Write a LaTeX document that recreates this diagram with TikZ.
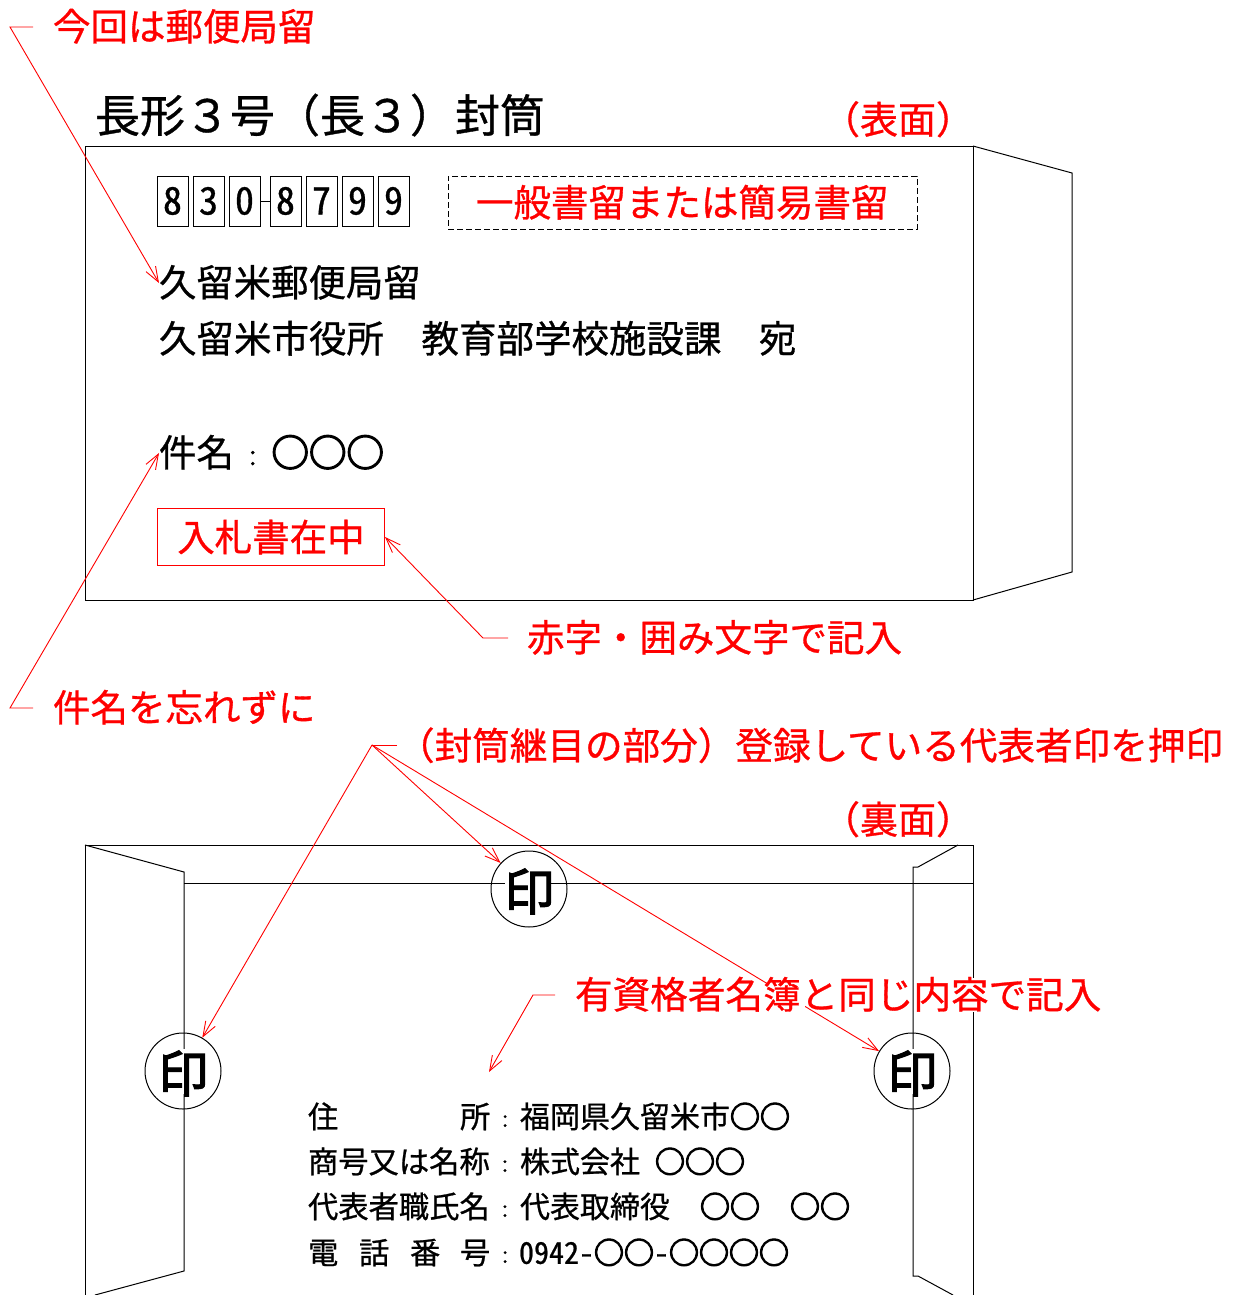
\documentclass[tikz,border=0pt]{standalone}
\usepackage{fontspec}
\usetikzlibrary{arrows.meta}
\setmainfont[RawFeature={embolden=0.8}]{Noto Sans CJK JP}
\newfontfamily\jphw[RawFeature={+hwid;embolden=0.8}]{Noto Sans CJK JP}
\newfontfamily\jpheavy[RawFeature={embolden=2.2}]{Noto Sans CJK JP}
\newfontfamily\jpring[RawFeature={embolden=4}]{Noto Sans CJK JP}
\newcommand{\fwL}{\char"FF08\relax}
\newcommand{\fwR}{\char"FF09\relax}
\newcommand{\fwC}{\makebox[1em]{\scalebox{.6}{\char"FF1A\relax}}}
\newcommand{\fwT}{\char"FF13\relax}
\newcommand{\fwS}{\char"3000\relax}
\newcommand{\rng}[1]{{\jpring #1}}
\tikzset{
  x=1pt,y=-1pt,
  txt/.style={anchor=west,inner sep=0pt,outer sep=0pt,font=\fontsize{#1}{#1}\selectfont,
    text height={0.86*#1 pt},text depth={0.14*#1 pt}},
  redtxt/.style={txt=#1,text=red},
  env/.style={draw=black,line width=1pt},
  lead/.style={draw=red,line width=0.9pt,line join=miter},
  arr/.style={lead,-{Straight Barb[length=15pt,width=11pt,line width=0.9pt]}},
  digitbox/.style={draw=black,line width=1pt,minimum width=31pt,minimum height=50pt,inner sep=0pt,
    font=\fontsize{38}{38}\selectfont\jphw},
  stamp/.style={draw=black,line width=1pt,circle,minimum size=76pt,inner sep=0pt},
  stampglyph/.style={fill=white,inner sep=0pt,minimum size=45pt,text width=45pt,align=center,
    font=\fontsize{50}{50}\selectfont\jpheavy,text height=44pt,text depth=1pt},
}
\begin{document}
\begin{tikzpicture}
\useasboundingbox (0,0) rectangle (1241,1295);
% front envelope
\draw[env] (85,146) rectangle (973,600);
\draw[env] (973,146) -- (1072,173) -- (1072,572) -- (973,600);
% back envelope
\draw[env] (85,1295) -- (85,845) -- (973,845) -- (973,1295);
\draw[env] (85,845) -- (184,872) -- (184,1271) -- (95,1295);
\draw[env] (184,883) -- (973,883);
\draw[env] (958,845) -- (918,867) -- (913,867) -- (913,1276) -- (918,1276) -- (953,1295);

% stamps
\node[stamp] (stA) at (529,889) {};
\node[stamp] (stB) at (183,1071) {};
\node[stamp] (stC) at (912,1071) {};
\node[stampglyph] (gA) at (527,889) {印};
\node[stampglyph] (gB) at (181,1071) {印};
\node[stampglyph] (gC) at (910,1071) {印};

% titles
\node[txt=45] (title) at (95,116) {長形\fwT 号\fwL 長\fwT\fwR 封筒};
\node[redtxt=38] (front) at (822,120) {\fwL 表面\fwR};
\node[redtxt=38] (back) at (822,820) {\fwL 裏面\fwR};

% postcode
\node[digitbox] (d1) at (172.5,201) {8};
\node[digitbox] (d2) at (208.5,201) {3};
\node[digitbox] (d3) at (244.5,201) {0};
\node[digitbox] (d4) at (285.5,201) {8};
\node[digitbox] (d5) at (321.5,201) {7};
\node[digitbox] (d6) at (357.5,201) {9};
\node[digitbox] (d7) at (393.5,201) {9};
\draw[env] (d3) -- (d4);

\node[draw=black,dash pattern=on 6pt off 3pt,line width=1pt,minimum width=469pt,minimum height=53pt,inner sep=0pt] (reg) at (682.5,202.5) {};
\node[redtxt=37.5] (regt) at (476,203) {一般書留または簡易書留};

\node[txt=37.4] (addr1) at (159,283) {久留米郵便局留};
\node[txt=37.5] (addr2) at (159,339) {久留米市役所\fwS 教育部学校施設課\fwS 宛};
\node[txt=37.5] (subj) at (159,453) {件名\fwC\rng{○○○}};
\node[draw=red,line width=1pt,minimum width=227pt,minimum height=57pt,inner sep=0pt,text=red,
  font=\fontsize{37.5}{37.5}\selectfont] (nyu) at (271,537) {入札書在中};

% callout labels
\node[redtxt=37.5] (l1) at (53,27) {今回は郵便局留};
\node[redtxt=37.5] (l2) at (527,638) {赤字・囲み文字で記入};
\node[redtxt=37.5] (l3) at (53,708) {件名を忘れずに};
\node[redtxt=37.6] (l4) at (397,746) {\fwL 封筒継目の部分\fwR 登録している代表者印を押印};

% leaders
\coordinate (c1a) at (33,27); \coordinate (c1b) at (10,27);
\draw[arr] (c1a) -- (c1b) -- (addr1.west);
\coordinate (c2a) at (508,638); \coordinate (c2b) at (483,638);
\draw[arr] (c2a) -- (c2b) -- (nyu.east);
\coordinate (c3a) at (33,708); \coordinate (c3b) at (10,708);
\draw[arr] (c3a) -- (c3b) -- (subj.west);
\coordinate (c4a) at (397,745); \coordinate (c4b) at (372,745);
\draw[lead] (c4a) -- (c4b);
\draw[arr] (c4b) -- (stA);
\draw[arr] (c4b) -- (stB);
\draw[arr] (c4b) -- (stC);
\coordinate (c5a) at (555,995); \coordinate (c5b) at (533,995); \coordinate (c5c) at (489,1072);
\draw[arr] (c5a) -- (c5b) -- (c5c);

% text overlying lines hides them
\fill[white] (768,978) rectangle (805,1013);
\fill[white] (955,978) rectangle (990,1012);
\node[redtxt=37.6] (l5) at (575,995) {有資格者名簿と同じ内容で記入};

% details
\node[txt=30.3] (a1) at (308,1117) {住};
\node[txt=30.3] (a2) at (460,1117) {所};
\node[txt=30.3] (a3) at (490,1117) {\fwC};
\node[txt=30] (a4) at (520,1117) {福岡県久留米市\rng{○○}};
\node[txt=30.3] (b1) at (308,1162) {商号又は名称\fwC};
\node[txt=30] (b2) at (520,1162) {株式会社};
\node[txt=30] (b3) at (655,1162) {\rng{○○○}};
\node[txt=30.3] (e1) at (308,1207) {代表者職氏名\fwC};
\node[txt=30] (e2) at (520,1207) {代表取締役};
\node[txt=30] (e3) at (700,1207) {\rng{○○}};
\node[txt=30] (e4) at (790,1207) {\rng{○○}};
\node[txt=30.3] (f1) at (308,1253) {電};
\node[txt=30.3] (f2) at (359,1253) {話};
\node[txt=30.3] (f3) at (410,1253) {番};
\node[txt=30.3] (f4) at (460,1253) {号};
\node[txt=30.3] (f5) at (490,1253) {\fwC};
\node[txt=30,font=\fontsize{30}{30}\selectfont\jphw] (f6) at (519,1253) {0942-};
\node[txt=30] (f7) at (594,1253) {\rng{○○}};
\node[txt=30,font=\fontsize{30}{30}\selectfont\jphw] (f8) at (654,1253) {-};
\node[txt=30] (f9) at (669,1253) {\rng{○○○○}};
\end{tikzpicture}
\end{document}
